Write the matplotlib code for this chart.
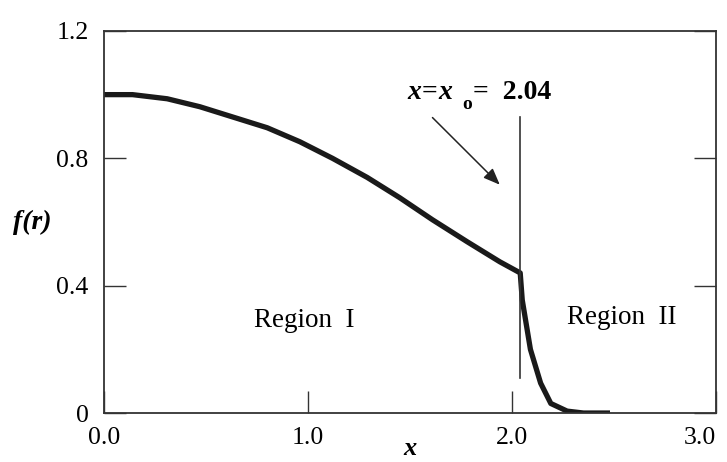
import matplotlib
matplotlib.use("Agg")
from matplotlib import pyplot as plt

# curve
x_vals = [0.0, 0.14, 0.31, 0.47, 0.63, 0.80, 0.96, 1.12, 1.29, 1.45, 1.61,
          1.78, 1.94, 2.04, 2.05, 2.09, 2.14, 2.19, 2.27, 2.35, 2.48]
f_vals = [1.0, 1.0, 0.987, 0.962, 0.93, 0.896, 0.852, 0.80, 0.74, 0.676, 0.607,
          0.538, 0.475, 0.44, 0.355, 0.20, 0.094, 0.03, 0.006, 0.0, 0.0]

x_o = 2.04
xticks = [0.0, 1.0, 2.0, 3.0]
xtick_labels = ["0.0", "1.0", "2.0", "3.0"]
yticks = [0.0, 0.4, 0.8, 1.2]
ytick_labels = ["0", "0.4", "0.8", "1.2"]

plt.rcParams['font.family'] = ['Liberation Serif', 'DejaVu Serif']
plt.rcParams['mathtext.fontset'] = 'custom'
plt.rcParams['mathtext.it'] = 'Liberation Serif:italic:bold'
plt.rcParams['mathtext.rm'] = 'Liberation Serif:bold'

fig = plt.figure(figsize=(7.27, 4.62), dpi=100)
ax = fig.add_axes([0.143, 0.106, 0.842, 0.827])

ax.plot(x_vals, f_vals, color='#1a1a1a', linewidth=3.8,
        solid_joinstyle='round', solid_capstyle='butt')
ax.plot([x_o, x_o], [0.11, 0.93], color='#333333', linewidth=1.2)

ax.annotate("", xy=(1.94, 0.717), xytext=(1.61, 0.928),
            arrowprops=dict(arrowstyle='-|>,head_length=1.0,head_width=0.4',
                            color='#222222', lw=1.1, shrinkA=0, shrinkB=0))

# label x = x_o = 2.04 with a low subscript
ax.text(1.485, 0.985, r"$x\!=\!x$", fontsize=20, ha='left', va='baseline')
ax.text(1.755, 0.955, "o", fontsize=14, fontweight='bold', ha='left', va='baseline')
ax.text(1.81, 0.985, "=  2.04", fontsize=20, fontweight='bold', ha='left', va='baseline')

ax.text(0.98, 0.29, "Region  I", fontsize=19.5, ha='center', va='center')
ax.text(2.54, 0.30, "Region  II", fontsize=19.5, ha='center', va='center')

ax.text(-0.35, 0.60, "f(r)", fontsize=20, fontweight='bold', style='italic',
        ha='center', va='center')
ax.text(1.5, -0.112, "x", fontsize=19, fontweight='bold', style='italic',
        ha='center', va='center')

ax.set_xlim(0, 3.0)
ax.set_ylim(0, 1.2)
ax.set_xticks(xticks)
ax.set_xticklabels(xtick_labels)
ax.set_yticks(yticks)
ax.set_yticklabels(ytick_labels)
ax.tick_params(axis='both', direction='in', length=16, width=1.0,
               color='#333333', labelsize=18.5)
ax.tick_params(axis='x', pad=10)
ax.tick_params(axis='y', pad=11, right=True)
# last x label sits at the page edge; nudge it in a little
ax.get_xticklabels()[-1].set_horizontalalignment('right')
ax.get_xticklabels()[-1].set_x(3.0)

for side in ax.spines.values():
    side.set_color('#333333')
    side.set_linewidth(1.3)

fig.savefig("out.png", dpi=100)
